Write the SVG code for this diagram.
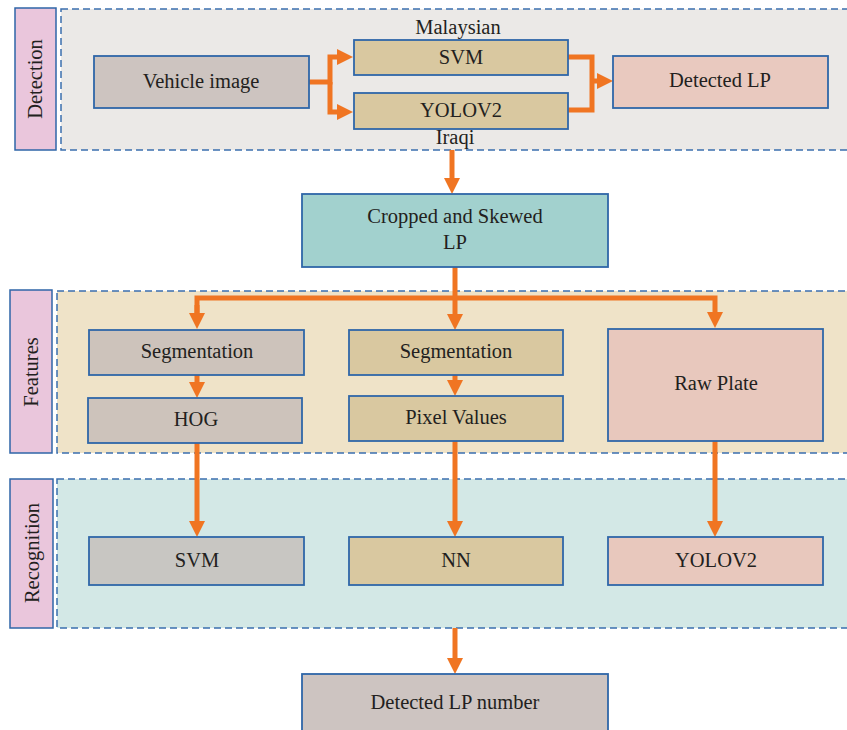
<svg xmlns="http://www.w3.org/2000/svg" width="847" height="730" viewBox="0 0 847 730">
<defs>
<style>
.region{stroke:#3b6fae;stroke-width:1.5;stroke-dasharray:7 4}
.lab{fill:#eac6dc;stroke:#2f66a8;stroke-width:1.5}
.box{stroke:#2f66a8;stroke-width:1.8}
text{font-family:"Liberation Serif","Times New Roman",serif;font-size:20.5px;fill:#231f20;text-anchor:middle;dominant-baseline:central}
.conn{fill:none;stroke:#f07522;stroke-width:5}
</style>
<marker id="ah" viewBox="0 0 16 16" markerWidth="16" markerHeight="16" refX="8" refY="8" orient="auto" markerUnits="userSpaceOnUse">
<path d="M0,0 L16,8 L0,16 Z" fill="#f07522"/>
</marker>
</defs>
<rect width="847" height="730" fill="#ffffff"/>

<g id="regions">
<rect id="detection-region" class="region" x="61" y="9" width="790" height="141" fill="#ebe9e7"/>
<rect id="features-region" class="region" x="57" y="291" width="794" height="162" fill="#efe3c8"/>
<rect id="recognition-region" class="region" x="57" y="479" width="794" height="149" fill="#d3e8e6"/>
</g>

<g id="label-detection"><rect class="lab" x="15" y="8" width="41" height="142"/><text transform="translate(35,79) rotate(-90)">Detection</text></g>
<g id="label-features"><rect class="lab" x="10" y="290" width="42" height="163"/><text transform="translate(31,372) rotate(-90)">Features</text></g>
<g id="label-recognition"><rect class="lab" x="10" y="479" width="43" height="149"/><text transform="translate(32,553) rotate(-90)">Recognition</text></g>

<g id="connectors">
<path class="conn" d="M309,82 H330 V57 H345" marker-end="url(#ah)"/>
<path class="conn" d="M330,82 V112 H345" marker-end="url(#ah)"/>
<path class="conn" d="M568,57 H592 V110 H568"/>
<path class="conn" d="M592,81 H605" marker-end="url(#ah)"/>
<path class="conn" d="M452,150 V186" marker-end="url(#ah)"/>
<path class="conn" d="M455,267 V322" marker-end="url(#ah)"/>
<path class="conn" d="M197,321 V298 H715 V320" marker-end="url(#ah)"/>
<path class="conn" d="M197,305 V321" marker-end="url(#ah)"/>
<path class="conn" d="M197,375 V390" marker-end="url(#ah)"/>
<path class="conn" d="M455,375 V388" marker-end="url(#ah)"/>
<path class="conn" d="M197,443 V529" marker-end="url(#ah)"/>
<path class="conn" d="M455,441 V529" marker-end="url(#ah)"/>
<path class="conn" d="M715,441 V529" marker-end="url(#ah)"/>
<path class="conn" d="M455,628 V666" marker-end="url(#ah)"/>
</g>

<g id="vehicle-image"><rect class="box" x="94" y="56" width="215" height="52" fill="#cdc4c0"/><text x="201" y="81">Vehicle image</text></g>
<g id="svm-detect"><rect class="box" x="354" y="40" width="214" height="35" fill="#d9c8a0"/><text x="461" y="57">SVM</text></g>
<text x="458" y="27">Malaysian</text>
<g id="yolov2-detect"><rect class="box" x="354" y="93" width="214" height="36" fill="#d9c8a0"/><text x="461" y="110">YOLOV2</text></g>
<text x="455" y="137">Iraqi</text>
<g id="detected-lp"><rect class="box" x="613" y="56" width="215" height="52" fill="#e9c9bf"/><text x="720" y="80">Detected LP</text></g>

<g id="cropped-lp"><rect class="box" x="302" y="194" width="306" height="73" fill="#a2d1ce"/><text x="455" y="216">Cropped and Skewed</text><text x="455" y="242">LP</text></g>

<g id="segmentation-1"><rect class="box" x="89" y="330" width="215" height="45" fill="#cdc3bb"/><text x="197" y="351">Segmentation</text></g>
<g id="hog"><rect class="box" x="88" y="398" width="214" height="45" fill="#cdc3bb"/><text x="196" y="419">HOG</text></g>
<g id="segmentation-2"><rect class="box" x="349" y="330" width="214" height="45" fill="#d9c8a0"/><text x="456" y="351">Segmentation</text></g>
<g id="pixel-values"><rect class="box" x="349" y="396" width="214" height="45" fill="#d9c8a0"/><text x="456" y="417">Pixel Values</text></g>
<g id="raw-plate"><rect class="box" x="608" y="329" width="215" height="112" fill="#e8c8bd"/><text x="716" y="383">Raw Plate</text></g>

<g id="svm-recog"><rect class="box" x="89" y="537" width="215" height="48" fill="#c8c6c2"/><text x="197" y="560">SVM</text></g>
<g id="nn"><rect class="box" x="349" y="537" width="214" height="48" fill="#d9c8a0"/><text x="456" y="560">NN</text></g>
<g id="yolov2-recog"><rect class="box" x="608" y="537" width="215" height="48" fill="#e8c8bd"/><text x="716" y="560">YOLOV2</text></g>

<g id="detected-lp-number"><rect class="box" x="302" y="674" width="306" height="60" fill="#cdc4c1"/><text x="455" y="702">Detected LP number</text></g>
</svg>
